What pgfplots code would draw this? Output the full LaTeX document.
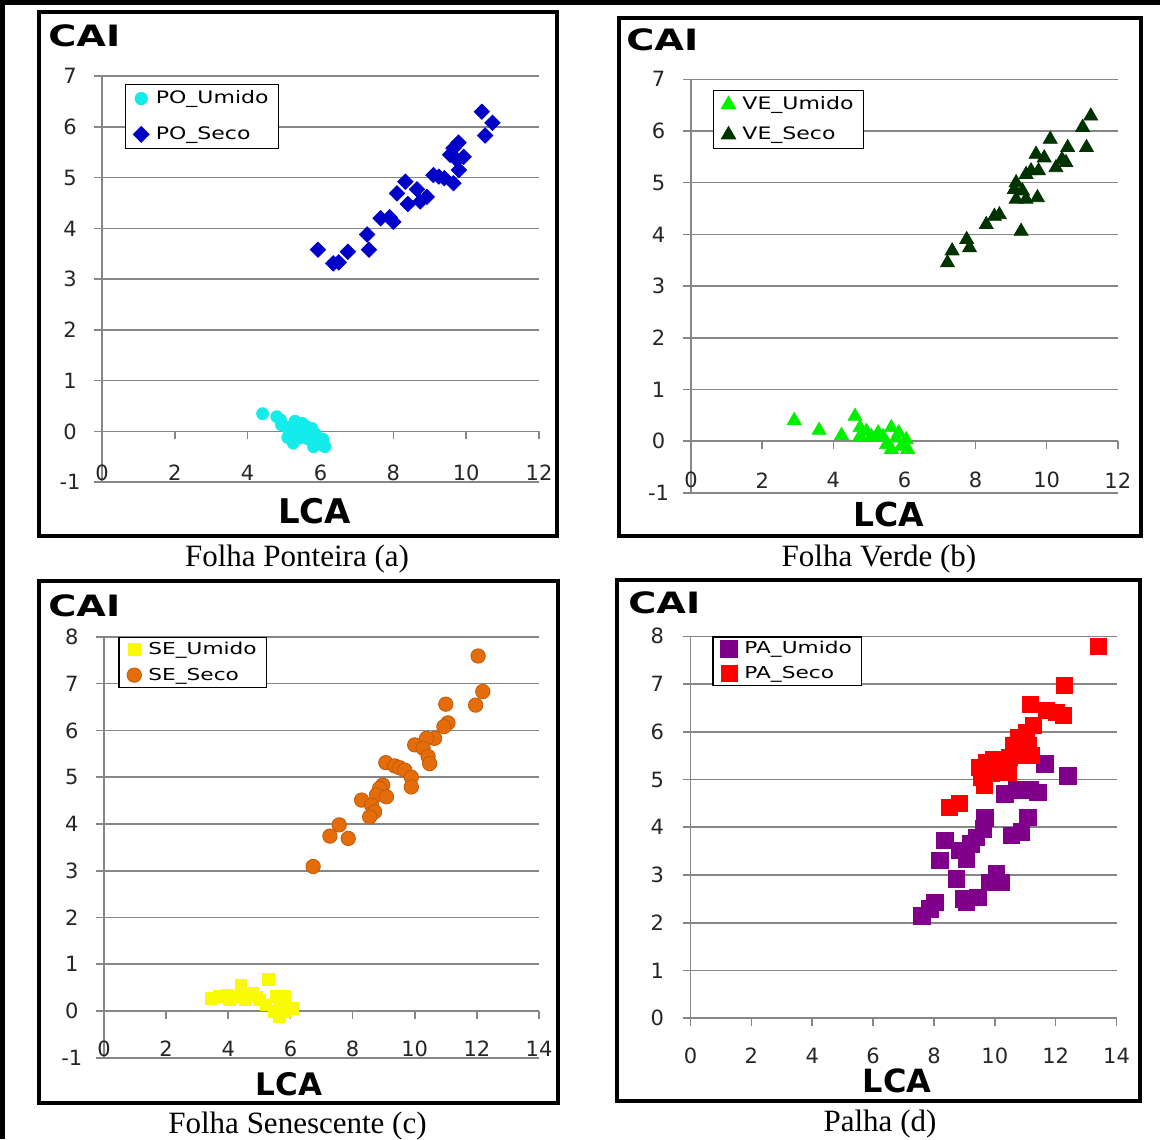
\documentclass[border=0pt]{standalone}
\usepackage{pgfplots}
\pgfplotsset{compat=1.18}
\usepackage{graphicx}
\usepackage{fontspec}
\setmainfont{DejaVu Sans}
\newfontfamily\capfont{Liberation Serif}
\definecolor{gridgray}{RGB}{134,134,134}
\definecolor{cyanpt}{RGB}{20,235,235}
\definecolor{bluept}{RGB}{0,0,200}
\definecolor{lgreen}{RGB}{0,240,0}
\definecolor{dgreen}{RGB}{0,51,0}
\definecolor{yellowpt}{RGB}{250,250,0}
\definecolor{orangept}{RGB}{228,108,10}
\definecolor{purplept}{RGB}{128,0,140}
\definecolor{redpt}{RGB}{255,0,0}
\pgfplotsset{
 panel/.style={
  scale only axis,
  axis x line*=middle, axis y line*=left,
  axis line style={gridgray, line width=0.8pt},
  ymajorgrids, grid style={gridgray, line width=0.8pt},
  xtick align=outside, ytick align=outside,
  major tick length=4pt,
  tick style={gridgray, line width=0.8pt},
  hide obscured x ticks=false, hide obscured y ticks=false,
  /pgf/number format/assume math mode=true,
  tick label style={font=\fontsize{10.5}{12}\selectfont, text=black!85},
  xticklabel style={anchor=center},
  yticklabel style={anchor=center},
  clip=false,
  legend cell align=left,
  legend style={draw=black, line width=0.6pt, fill=white, anchor=north west,
    font=\fontsize{8.6}{10}\selectfont, inner xsep=4pt, column sep=2.5pt,
    nodes={inner sep=1pt, text height=6.5pt, text depth=1.5pt}},
 }
}
\begin{document}
\begin{tikzpicture}
\useasboundingbox (0,0) rectangle (580pt,-569.5pt);
\fill[white] (0,0) rectangle (580pt,-569.5pt);

% ---------------- panel (a)
\begin{axis}[panel, at={(51pt,-241.1pt)}, anchor=south west, width=218.5pt, height=203.05pt,
 xmin=0,xmax=12,ymin=-1,ymax=7, xtick={0,2,...,12}, ytick={-1,0,...,7},
 xticklabel style={yshift=-16.8pt}, yticklabel style={xshift=-12pt},
 legend style={at={(0.0526,0.9806)}, row sep=7.9pt, inner ysep=2pt}]
\addplot[only marks, mark=*, mark size=3pt, color=cyanpt] coordinates {
(4.41,0.35) (4.80,0.29) (4.90,0.23) (4.93,0.13) (5.05,0.09) (5.10,-0.12) (5.15,-0.05)
(5.25,-0.23) (5.30,0.20) (5.35,0.06) (5.46,-0.12) (5.50,0.16) (5.56,-0.05) (5.66,-0.15)
(5.76,0.06) (5.81,-0.30) (5.86,-0.05) (5.96,-0.23) (6.06,-0.15) (6.12,-0.30) (5.20,0.05)
(5.40,0.00) (5.60,0.10)};
\addlegendentry{\scalebox{1.28}[1]{PO\_Umido}}
\addplot[only marks, mark=square*, mark size=2.7pt, mark options={rotate=45}, color=bluept] coordinates {
(5.93,3.58) (6.35,3.31) (6.50,3.33) (6.75,3.54) (7.28,3.88) (7.33,3.58) (7.65,4.20)
(7.90,4.22) (8.00,4.13) (8.10,4.69) (8.33,4.92) (8.40,4.48) (8.65,4.77) (8.74,4.53)
(8.92,4.62) (9.10,5.05) (9.25,5.02) (9.40,4.99) (9.65,4.89) (9.80,5.15) (9.75,5.35)
(9.56,5.45) (9.93,5.41) (9.65,5.58) (9.79,5.69) (10.43,6.30) (10.72,6.08) (10.52,5.83)};
\addlegendentry{\scalebox{1.28}[1]{PO\_Seco}}
\end{axis}

% ---------------- panel (b)
\begin{axis}[panel, at={(345.55pt,-246.4pt)}, anchor=south west, width=213.35pt, height=206.75pt,
 xmin=0,xmax=12,ymin=-1,ymax=7, xtick={0,2,...,12}, ytick={-1,0,...,7},
 xticklabel style={yshift=-15.6pt}, yticklabel style={xshift=-12.3pt},
 legend style={at={(0.0513,0.974)}, row sep=5.2pt, inner ysep=1.9pt}]
\addplot[only marks, mark=triangle*, mark size=4pt, color=lgreen] coordinates {
(2.90,0.40) (3.60,0.21) (4.23,0.11) (4.61,0.48) (4.75,0.26) (4.93,0.19) (5.07,0.09)
(4.75,0.09) (5.26,0.16) (5.40,0.09) (5.63,0.26) (5.49,-0.07) (5.77,0.06) (5.84,0.16)
(5.91,-0.10) (6.05,0.03) (6.09,-0.16) (5.63,-0.16)};
\addlegendentry{\scalebox{1.28}[1]{VE\_Umido}}
\addplot[only marks, mark=triangle*, mark size=4pt, color=dgreen] coordinates {
(11.24,6.29) (11.01,6.07) (11.12,5.68) (10.10,5.84) (10.59,5.68) (9.70,5.55) (9.93,5.48)
(10.43,5.45) (10.54,5.39) (10.26,5.29) (9.56,5.23) (9.77,5.23) (9.42,5.16) (9.14,5.00)
(9.09,4.87) (9.32,4.84) (9.14,4.68) (9.42,4.68) (9.74,4.71) (9.28,4.06) (8.67,4.38)
(8.53,4.35) (8.30,4.19) (7.75,3.90) (7.83,3.74) (7.34,3.68) (7.21,3.45)};
\addlegendentry{\scalebox{1.28}[1]{VE\_Seco}}
\end{axis}

% ---------------- panel (c)
\begin{axis}[panel, at={(52pt,-528.9pt)}, anchor=south west, width=217.5pt, height=210.5pt,
 xmin=0,xmax=14,ymin=-1,ymax=8, xtick={0,2,...,14}, ytick={-1,0,...,8},
 xticklabel style={yshift=-15pt}, yticklabel style={xshift=-12.1pt},
 legend style={at={(0.0333,1.0)}, row sep=2.7pt, inner ysep=1.15pt, font=\fontsize{8.2}{10}\selectfont}]
\addplot[only marks, mark=square*, mark size=2.9pt, color=yellowpt] coordinates {
(3.44,0.27) (3.71,0.31) (3.95,0.33) (4.03,0.24) (4.35,0.31) (4.41,0.56) (4.68,0.31)
(4.78,0.38) (5.00,0.24) (5.21,0.13) (5.29,0.67) (5.48,-0.01) (5.53,0.31) (5.64,0.17)
(5.64,-0.12) (5.80,0.31) (5.85,-0.02) (6.07,0.06) (4.55,0.25) (4.90,0.30) (5.75,0.10)};
\addlegendentry{\scalebox{1.32}[1]{SE\_Umido}}
\addplot[only marks, mark=*, mark size=3.6pt, color=orangept, mark options={draw=orangept!85!black, line width=0.4pt}] coordinates {
(12.04,7.59) (12.19,6.83) (11.96,6.54) (11.00,6.56) (11.07,6.16) (10.94,6.08) (10.64,5.83)
(10.38,5.83) (10.00,5.69) (10.27,5.62) (10.43,5.44) (10.48,5.29) (9.07,5.31) (9.36,5.24)
(9.52,5.20) (9.68,5.15) (9.89,5.00) (9.89,4.79) (8.97,4.83) (8.87,4.76) (8.77,4.62)
(9.09,4.58) (8.29,4.51) (8.61,4.40) (8.71,4.26) (8.55,4.15) (7.57,3.98) (7.27,3.74)
(7.86,3.69) (6.73,3.09)};
\addlegendentry{\scalebox{1.32}[1]{SE\_Seco}}
\end{axis}

% ---------------- panel (d)
\begin{axis}[panel, at={(345.25pt,-509.1pt)}, anchor=south west, width=213pt, height=190.95pt,
 xmin=0,xmax=14,ymin=0,ymax=8, xtick={0,2,...,14}, ytick={0,1,...,8},
 xticklabel style={yshift=-14.6pt}, yticklabel style={xshift=-12.6pt},
 legend style={at={(0.0516,1.0)}, row sep=2.1pt, inner ysep=1pt, font=\fontsize{8.2}{10}\selectfont}]
\addplot[only marks, mark=square*, mark size=4.1pt, color=purplept] coordinates {
(11.64,5.33) (12.40,5.08) (10.33,4.70) (10.71,4.78) (11.15,4.78) (11.42,4.73) (9.67,4.21)
(11.09,4.21) (9.70,4.18) (9.62,3.97) (10.55,3.83) (10.88,3.90) (8.36,3.72) (9.22,3.65)
(8.85,3.51) (9.40,3.79) (8.20,3.30) (9.07,3.34) (8.74,2.92) (10.05,3.02) (10.22,2.85)
(9.84,2.85) (9.45,2.53) (9.07,2.42) (8.97,2.50) (8.03,2.42) (7.87,2.29) (7.60,2.14)};
\addlegendentry{\scalebox{1.32}[1]{PA\_Umido}}
\addplot[only marks, mark=square*, mark size=4pt, color=redpt] coordinates {
(13.39,7.78) (12.30,6.97) (11.17,6.57) (11.70,6.45) (12.02,6.41) (12.24,6.34) (11.26,6.13)
(11.04,5.99) (10.77,5.89) (10.60,5.71) (11.09,5.71) (10.88,5.54) (11.20,5.50) (10.49,5.47)
(10.70,5.50) (10.22,5.33) (9.95,5.43) (9.73,5.36) (9.51,5.26) (9.56,5.05) (9.89,5.12)
(10.27,5.19) (10.44,5.15) (9.67,4.87) (8.52,4.42) (8.85,4.49)};
\addlegendentry{\scalebox{1.32}[1]{PA\_Seco}}
\end{axis}

% frames
\draw[line width=2pt] (19.5pt,-6.25pt) rectangle (278.5pt,-268pt);
\draw[line width=2pt] (309.5pt,-9pt) rectangle (570.5pt,-268pt);
\draw[line width=2pt] (19.5pt,-290.5pt) rectangle (279pt,-551.5pt);
\draw[line width=2pt] (308.5pt,-290pt) rectangle (570pt,-550.5pt);
% outer table lines
\draw[line width=2.5pt] (0,-1.25pt) -- (580pt,-1.25pt);
\draw[line width=2.5pt] (1.25pt,0) -- (1.25pt,-569.5pt);

% CAI labels
\begin{scope}[every node/.style={anchor=west, inner sep=0pt, font=\fontsize{14.7}{16}\selectfont\bfseries}]
\node at (24pt,-18pt) {\scalebox{1.3}[1]{CAI}};
\node at (313pt,-20pt) {\scalebox{1.3}[1]{CAI}};
\node at (24pt,-303pt) {\scalebox{1.3}[1]{CAI}};
\node at (314pt,-301.5pt) {\scalebox{1.3}[1]{CAI}};
\end{scope}
% LCA labels
\node[inner sep=0pt, font=\fontsize{17}{19}\selectfont\bfseries] at (157.4pt,-255.4pt) {LCA};
\node[inner sep=0pt, font=\fontsize{16.5}{19}\selectfont\bfseries] at (444.5pt,-257pt) {LCA};
\node[inner sep=0pt, font=\fontsize{15.5}{19}\selectfont\bfseries] at (144.5pt,-542pt) {LCA};
\node[inner sep=0pt, font=\fontsize{16}{19}\selectfont\bfseries] at (448.5pt,-540.5pt) {LCA};
% captions
\begin{scope}[every node/.style={anchor=base, inner sep=0pt, font=\capfont\fontsize{15.5}{17}\selectfont}]
\node at (148.5pt,-283pt) {Folha Ponteira (a)};
\node at (439.5pt,-283pt) {Folha Verde (b)};
\node at (148.75pt,-566.7pt) {Folha Senescente (c)};
\node at (440pt,-565.8pt) {Palha (d)};
\end{scope}
\end{tikzpicture}
\end{document}
